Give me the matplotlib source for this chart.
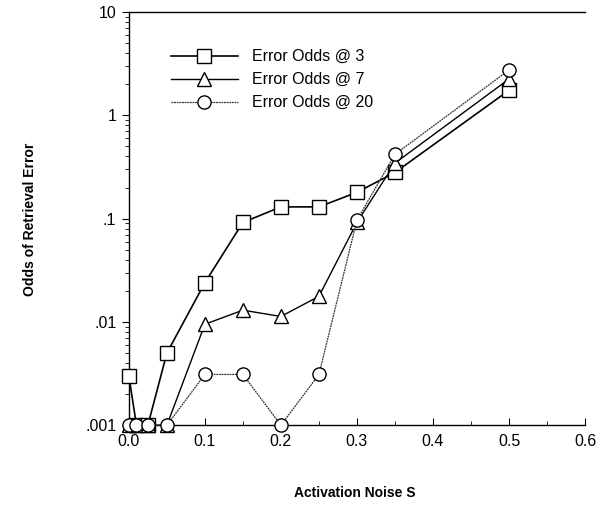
import matplotlib
matplotlib.use("Agg")
import matplotlib.pyplot as plt
from matplotlib.ticker import FixedLocator, LogLocator, MultipleLocator, NullFormatter

plt.rcParams['font.family'] = ['Liberation Sans', 'DejaVu Sans']

# activation noise values
noise = [0.0, 0.01, 0.025, 0.05, 0.10, 0.15, 0.20, 0.25, 0.30, 0.35, 0.50]

odds_3 = [0.003, 0.001, 0.001, 0.005, 0.024, 0.092, 0.13, 0.13, 0.18, 0.28, 1.75]
odds_7 = [0.001, 0.001, 0.001, 0.001, 0.0095, 0.013, 0.0113, 0.0177, 0.092, 0.345, 2.25]
odds_20 = [0.001, 0.001, 0.001, 0.001, 0.0031, 0.0031, 0.001, 0.0031, 0.097, 0.42, 2.75]

series_labels = ["Error Odds @ 3", "Error Odds @ 7", "Error Odds @ 20"]
y_ticks = [0.001, 0.01, 0.1, 1, 10]
y_ticklabels = [".001", ".01", ".1", "1", "10"]
x_ticks = [0.0, 0.1, 0.2, 0.3, 0.4, 0.5, 0.6]

fig = plt.figure(figsize=(6.05, 5.05), dpi=100)
ax = fig.add_axes([0.213, 0.158, 0.754, 0.818])

mk = dict(markerfacecolor='white', markeredgecolor='black', markersize=9.5,
          markeredgewidth=1.0, clip_on=False, zorder=3)
ax.plot(noise, odds_3, color='black', lw=1.2, marker='s', label=series_labels[0], **mk)
ax.plot(noise, odds_7, color='black', lw=1.0, marker='^', label=series_labels[1], **mk)
ax.plot(noise, odds_20, color='#333333', lw=0.9, ls=(0, (1.5, 0.6)), marker='o',
        label=series_labels[2], **mk)

ax.set_yscale('log')
ax.set_ylim(0.001, 10)
ax.set_xlim(0.0, 0.6)
ax.yaxis.set_major_locator(FixedLocator(y_ticks))
ax.set_yticklabels(y_ticklabels)
ax.yaxis.set_minor_locator(LogLocator(base=10, subs=range(2, 10)))
ax.yaxis.set_minor_formatter(NullFormatter())
ax.set_xticks(x_ticks)
ax.set_xticklabels(["%.1f" % v for v in x_ticks])
ax.xaxis.set_minor_locator(MultipleLocator(0.05))

ax.tick_params(axis='both', labelsize=11.5)
ax.tick_params(axis='x', which='both', direction='in', pad=6)
ax.tick_params(axis='x', which='major', length=5)
ax.tick_params(axis='x', which='minor', length=3)
ax.tick_params(axis='y', which='major', direction='out', length=5, pad=4)
ax.tick_params(axis='y', which='minor', direction='out', length=3)
ax.spines['right'].set_visible(False)
for s in ['left', 'bottom', 'top']:
    ax.spines[s].set_linewidth(1.0)

fig.text(0.05, 0.565, "Odds of Retrieval Error", rotation=90, ha='center',
         va='center', fontsize=10, fontweight='bold')
fig.text(0.587, 0.024, "Activation Noise S", ha='center', va='center',
         fontsize=10, fontweight='bold')

ax.legend(loc='upper left', bbox_to_anchor=(0.06, 0.945), frameon=False,
          fontsize=11.5, handlelength=4.2, handletextpad=0.9, labelspacing=0.5)

fig.savefig("out.png", dpi=100)
